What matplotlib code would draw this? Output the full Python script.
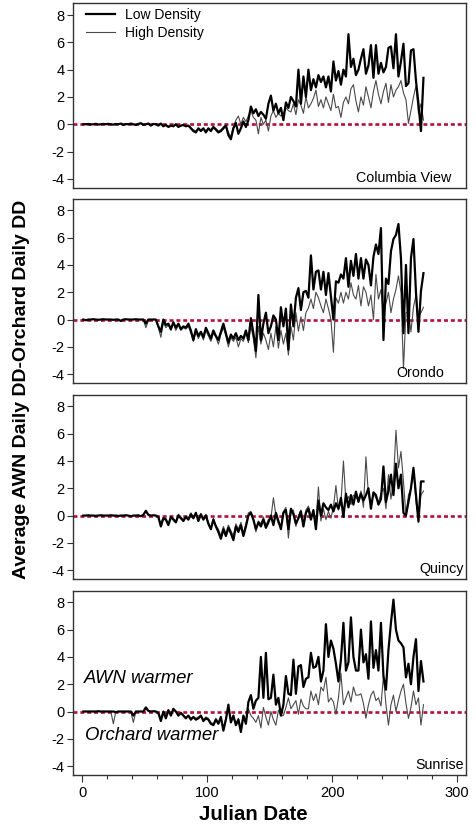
# Average AWN daily DD minus orchard daily DD, four sites

import matplotlib
matplotlib.use("Agg")
import matplotlib.pyplot as plt
import numpy as np

plt.rcParams['font.family'] = ['Liberation Sans', 'DejaVu Sans']
plt.rcParams['axes.unicode_minus'] = False

# every second Julian day, 1..273
days = np.arange(1, 274, 2)

sites = ["Columbia View", "Orondo", "Quincy", "Sunrise"]

cv_low = [0, 0, 0.02, -0.02, 0, 0.03, -0.02, 0, 0.02, 0,
          0.03, 0, -0.03, 0.02, 0, 0.05, -0.05, 0.02, 0, 0.05,
          0, -0.05, 0.02, 0.08, -0.05, 0, 0.05, -0.1, 0.02, 0,
          -0.1, 0.05, -0.15, -0.05, -0.2, -0.1, -0.15, 0, -0.2, -0.1,
          -0.05, -0.15, -0.1, -0.3, -0.5, -0.6, -0.3, -0.5, -0.3, -0.6,
          -0.3, -0.5, -0.2, -0.4, -0.6, -0.5, -0.3, -0.1, -0.8, -1.1,
          -0.3, 0.1, -0.7, -0.3, 0.2, -0.2, 0.3, 1.3, 0.8, 1.1,
          0.6, 0.9, 0.7, 0.4, 1.5, 2.1, 1.0, 1.5, 0.8, 1.2,
          0.3, 1.6, 1.2, 2.0, 1.7, 1.3, 4.0, 1.5, 3.5, 2.0,
          4.0, 2.5, 3.3, 2.7, 3.6, 3.1, 3.5, 2.7, 3.5, 2.4,
          4.6, 3.2, 3.9, 2.9, 4.0, 3.5, 6.6, 4.2, 4.8, 3.6,
          4.0, 4.8, 5.5, 3.7, 4.3, 5.8, 3.4, 5.8, 3.7, 4.5,
          3.8, 4.2, 5.6, 5.7, 4.1, 6.6, 3.5, 4.6, 5.9, 2.8,
          3.0, 5.4, 5.5, 3.2, 1.5, -0.5, 3.4]
cv_high = [0, 0.01, 0.02, -0.01, 0, 0.02, -0.02, 0, 0.01, 0,
           0.02, 0, -0.02, 0.02, 0, 0.04, -0.04, 0.02, 0, 0.04,
           0, -0.04, 0.02, 0.06, -0.04, 0, 0.04, -0.08, 0.02, 0,
           -0.1, 0.0, -0.1, -0.1, -0.15, -0.1, -0.1, 0.0, -0.15, -0.1,
           -0.1, -0.15, -0.1, -0.25, -0.4, -0.5, -0.3, -0.4, -0.3, -0.5,
           -0.3, -0.4, -0.2, -0.3, -0.5, -0.4, -0.2, 0.0, -0.6, -0.9,
           -0.2, 0.3, 0.6, 0.0, 0.5, 0.2, 0.6, 1.0, 0.5, 0.3,
           -0.7, 0.5, 0.0, 0.3, -0.5, 0.6, 1.0, 0.5, 0.8, 0.6,
           0.8, 1.2, 1.0, 0.9, 1.5, 0.7, 1.8, 1.4, 0.8, 2.0,
           1.2, 1.5, 1.9, 2.5, 1.3, 1.8, 1.2, 2.0, 1.5, 1.0,
           2.2, 1.2, 1.3, 0.5, 1.6, 2.0, 1.5, 2.6, 2.9, 1.7,
           0.9, 2.0, 1.4, 2.75, 2.0, 1.2, 2.4, 3.2, 2.2, 1.5,
           2.4, 3.0, 1.6, 2.9, 2.0, 2.5, 2.75, 3.2, 2.3, 1.8,
           0.07, 1.0, 2.0, 2.8, 0.8, 1.5, 0.3]

or_low = [0, -0.05, 0, 0, 0.02, 0, -0.02, 0, 0.02, 0,
          0, 0, -0.02, 0, 0, -0.1, 0, 0.02, 0, 0,
          0, 0.02, 0, 0, 0, -0.3, 0, 0, 0, 0,
          -0.5, -0.9, 0, -0.4, -0.3, -0.7, -0.2, -0.6, -0.3, -0.7,
          -0.5, -0.6, -0.3, -0.8, -1.5, -0.7, -1.2, -0.9, -1.3, -0.6,
          -1.0, -1.4, -0.8, -1.2, -1.5, -0.9, -0.3, -1.0, -1.7, -1.1,
          -1.4, -1.0, -1.5, -1.2, -1.4, -0.8, -1.5, 0.1, -1.0, -2.3,
          1.8, -1.5, -0.3, 0.5, -1.0, -0.5, 0.3, 0.0, -1.5, 0.9,
          -0.5, 0.8, -2.2, 1.1, -0.5, 1.6, 2.3, 0.7, 2.0, 2.1,
          1.6, 4.7, 2.2, 3.5, 3.6, 2.2, 3.5, 1.8, 3.4, 1.7,
          0.0, 2.8, 2.7, 3.3, 3.0, 4.5, 2.4, 4.3, 3.2, 4.8,
          3.0, 4.5, 3.0, 4.4, 4.0, 2.5, 4.6, 5.5, 4.8, 6.7,
          -1.5, 3.0, 2.6, 5.0, 5.9, 6.2, 7.0, 4.5, -1.0, 4.0,
          -1.0, 4.5, 5.9, 2.0, -0.9, 2.1, 3.4]
or_high = [0, -0.05, 0, 0, 0.02, 0, -0.02, 0, 0.02, 0,
           0, 0, -0.02, 0, 0, -0.12, 0, 0.02, 0, 0,
           0, 0.02, 0, 0, 0, -0.6, -0.1, 0, 0, 0,
           -0.6, -1.3, -0.2, -0.6, -0.4, -0.8, -0.3, -0.8, -0.4, -0.8,
           -0.6, -0.7, -0.5, -1.0, -1.6, -0.9, -1.4, -1.0, -1.5, -0.8,
           -1.2, -1.6, -1.0, -1.3, -1.8, -1.1, -0.6, -1.2, -2.0, -1.3,
           -1.6, -1.3, -2.0, -1.4, -1.6, -1.0, -1.7, -0.5, -1.4, -2.8,
           -0.5, -1.8, -1.0, -1.5, -2.2, -1.0, -2.0, -0.5, -2.1, -0.8,
           -1.8, -1.0, -2.6, -0.5, -1.5, 0.5, -0.85, 0.2, -0.8, 0.5,
           0.85, 1.5, 0.8, 2.0, 1.6, 1.0, 0.5, 1.5, 0.8, 0.0,
           -2.4, 1.6, 1.2, 2.0, 1.2, 2.0, 1.5, 2.7, 1.8, 1.5,
           2.5, 1.0, 2.4, 2.0, 1.0, 1.8, 0.0, 3.3, 1.5, 2.2,
           0.3, 1.2, 2.0, 0.5, 1.5, 2.2, 3.2, 2.0, -3.6, 0.5,
           0.6, -0.9, 0.9, 1.8, 0.2, 0.5, 0.9]

qu_low = [0, 0, 0.02, 0, 0, -0.02, 0, 0.02, 0, 0,
          0, 0.02, 0, 0, -0.03, 0, 0, 0.02, 0, -0.05,
          0, 0, 0.02, -0.05, 0.05, 0.35, 0.05, 0, 0.02, 0,
          -0.1, -0.8, -0.2, -0.3, -0.7, -0.1, -0.3, -0.5, 0.0, -0.2,
          -0.4, -0.1, -0.3, 0.1, -0.2, 0.2, -0.4, 0.1, -0.3, 0.0,
          -0.6, -1.0, -0.3, -0.8, -1.2, -1.7, -1.0, -1.5, -0.9, -1.3,
          -1.8, -0.8, -1.2, -0.7, -1.5, -0.8, 0.0, 0.2, -0.3, -1.0,
          -0.5, -0.8, -0.3, -0.9, -0.5, 0.0, -0.7, 0.2, -0.4, -1.0,
          0.2, 0.4, -1.0, 0.5, 0.1, -0.6, -0.2, 0.3, -0.8, 0.2,
          0.5, -0.3, 0.4, -1.0, 1.1, 0.0, 0.9, 0.6, 0.4, 0.8,
          0.3, 0.9, 0.5, 1.3, -0.1, 1.6, 0.6, 1.5, 0.8, 1.75,
          1.0, 1.6, 1.1, 1.5, 2.0, 0.5, 1.7, 1.5, 0.8, 1.2,
          3.6, 1.0, 1.8, 3.0, 1.5, 3.8, 2.0, 3.0, 0.2, 0.0,
          1.0, 2.0, 3.5, 1.5, -0.45, 2.5, 2.5]
qu_high = [0, 0, 0.01, 0, 0, -0.02, 0, 0.01, 0, 0,
           0, 0.01, 0, 0, -0.03, 0, 0, 0.01, 0, -0.04,
           0, 0, 0.01, -0.04, 0.04, 0.3, 0.04, 0, 0.01, 0,
           -0.1, -0.6, -0.1, -0.2, -0.6, -0.1, -0.2, -0.4, 0.1, -0.1,
           -0.3, 0.0, -0.2, 0.2, -0.1, 0.2, -0.3, 0.1, -0.2, 0.1,
           -0.5, -0.9, -0.2, -0.7, -1.0, -1.5, -0.8, -1.3, -0.7, -1.1,
           -1.5, -0.6, -1.0, -0.5, -1.3, -0.6, 0.2, 0.3, -0.2, -1.2,
           -0.4, -0.6, -0.1, -0.7, -0.3, -0.2, 1.3, 0.0, -0.6, -0.8,
           0.3, 0.6, -1.65, 0.2, 0.4, -0.8, 0.0, 0.4, -0.6, 0.4,
           0.7, 0.0, 0.2, -0.5, 2.1, -0.4, 0.5, -0.3, 0.3, -0.2,
           0.6, 2.2, 0.4, 0.9, 4.0, 1.0, 1.4, 0.8, 1.5, 1.3,
           1.2, 1.8, 0.6, 4.3, 1.5, 0.8, 1.6, 1.3, 1.0, 1.6,
           2.0, 0.5, 3.0, 1.2, 2.5, 6.25, 3.5, 4.7, 2.5, 0.0,
           1.5, 2.0, 3.3, 1.0, -0.3, 1.5, 1.8]

su_low = [0, 0, 0, 0, 0, 0, 0.02, 0, 0, 0,
          0, 0, 0, -0.05, 0, 0, 0, 0, 0, 0,
          -0.3, 0, 0, 0, 0, 0.3, 0.05, 0, 0.02, 0,
          -0.1, -0.7, 0.0, -0.5, 0.1, -0.3, 0.2, 0.0, -0.3, -0.1,
          -0.3, -0.5, -0.3, -0.6, -0.4, -0.6, -0.5, -0.3, -0.7, -0.5,
          -0.6, -0.9, -1.0, -0.6, -0.9, -0.4, -1.4, -0.6, 0.5, -0.8,
          -0.3, -1.0, -0.6, -1.5, -0.3, -0.9, 0.7, 1.2, 0.2, 0.8,
          1.0, 4.0, 1.0, 4.3, 0.9, 1.0, 2.7, 0.5, 1.0, -0.3,
          0.5, 2.6, 1.3, 1.2, 3.8, 1.3, 3.3, 3.4, 1.8, 2.4,
          2.5, 4.3, 3.2, 3.3, 4.0, 2.2, 3.0, 6.4, 4.0, 5.2,
          4.6, 3.5, 2.2, 3.8, 6.5, 3.0, 3.6, 6.9, 4.0, 3.0,
          3.0, 6.0, 3.6, 4.2, 2.4, 6.6, 3.2, 4.5, 3.0, 6.5,
          2.6, 1.6, 4.5, 6.5, 8.2, 6.0, 5.2, 5.0, 4.7, 2.5,
          3.5, 2.0, 4.0, 5.3, 1.5, 3.7, 2.2]
su_high = [0, 0, 0, 0, 0, 0, 0.02, 0, 0, 0,
           0, 0, -0.9, 0, 0, 0, 0, 0, 0, 0,
           -0.8, 0, 0, 0, 0, 0.2, 0.05, 0, 0.02, 0,
           -0.1, -0.5, 0.0, -0.4, 0.1, -0.2, 0.1, 0.0, -0.2, -0.1,
           -0.3, -0.4, -0.3, -0.5, -0.4, -0.5, -0.4, -0.3, -0.6, -0.4,
           -0.5, -0.8, -0.9, -0.5, -0.8, -0.4, -1.2, -0.5, 0.3, -0.7,
           -0.4, -0.9, -0.5, -1.2, -0.4, -0.8, 0.2, -0.3, -0.5, -0.8,
           -0.3, -1.2, 0.3, -0.4, -1.0, 0.0, -0.6, -1.0, 0.1, -0.3,
           -0.3, 0.3, 1.0, 0.2, 0.5, 0.8, -0.2, 0.9, 0.4, 0.2,
           0.2, 1.5, 0.8, 1.3, 0.5, 1.8, 1.5, 2.5, 0.7, 1.0,
           0.7, -0.2, 1.0, 2.8, 0.5, 1.0, 1.5, 0.7, 1.8, 1.2,
           1.2, 1.3, 0.6, -0.5, 0.5, 1.2, 1.5, 0.8, 1.0, 0.4,
           2.6, 0.5, -1.0, 0.5, 1.2, 0.0, 0.8, 1.5, 2.0, 0.6,
           -0.5, 0.3, 1.5, 0.5, 1.0, -1.0, 0.5]

low_series = [cv_low, or_low, qu_low, su_low]
high_series = [cv_high, or_high, qu_high, su_high]

fig = plt.figure(figsize=(4.77, 8.24), dpi=100)
bottoms = [0.7722, 0.5352, 0.2973, 0.0595]
frame = '#333333'

for i in range(4):
    ax = fig.add_axes([0.1524, bottoms[i], 0.8245, 0.2236])
    ax.axhline(0, color='#b3103a', lw=1.9, ls=(0, (1.5, 1.1)), zorder=1)
    ax.plot(days, high_series[i], color='#4a4a4a', lw=0.8, zorder=2,
            label='High Density')
    ax.plot(days, low_series[i], color='black', lw=1.6, zorder=3,
            label='Low Density')
    ax.set_xlim(-7.5, 307)
    ax.set_ylim(-4.65, 8.85)
    ax.set_yticks([-4, -2, 0, 2, 4, 6, 8])
    ax.tick_params(axis='y', direction='out', length=4, width=0.8,
                   color=frame, labelsize=10.5, pad=2)
    for s in ax.spines.values():
        s.set_color(frame)
        s.set_linewidth(1.0)
    if i < 3:
        ax.tick_params(axis='x', bottom=False, labelbottom=False)
    else:
        ax.set_xticks([0, 100, 200, 300])
        ax.set_xticks(np.arange(0, 301, 20), minor=True)
        ax.tick_params(axis='x', which='major', direction='out', length=5,
                       width=0.8, color=frame, labelsize=10.5, pad=3)
        ax.tick_params(axis='x', which='minor', direction='out', length=3,
                       width=0.8, color=frame)
    ax.text(305 if i != 0 and i != 1 else (295.6 if i == 0 else 290), -3.92,
            sites[i], ha='right', va='center', fontsize=10.3)
    if i == 0:
        h, l = ax.get_legend_handles_labels()
        ax.legend(h[::-1], l[::-1], loc='upper left',
                  bbox_to_anchor=(0.033, 0.975), frameon=False,
                  borderaxespad=0, borderpad=0, handlelength=2.1,
                  handletextpad=0.75, labelspacing=0.25, fontsize=10)
    if i == 3:
        ax.text(1.6, 2.4, 'AWN warmer', style='italic', fontsize=13.3,
                ha='left', va='center')
        ax.text(2.4, -1.78, 'Orchard warmer', style='italic', fontsize=13.3,
                ha='left', va='center')

fig.text(0.046, 0.527, 'Average AWN Daily DD-Orchard Daily DD',
         rotation=90, ha='center', va='center', fontsize=14, fontweight='bold')
fig.text(0.532, 0.011, 'Julian Date', ha='center', va='center',
         fontsize=14.7, fontweight='bold')

fig.savefig('out.png', dpi=100)
